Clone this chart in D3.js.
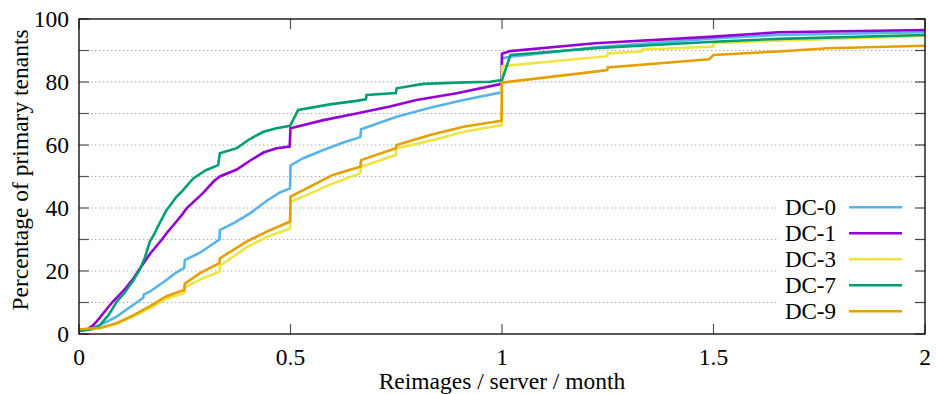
<!DOCTYPE html>
<html><head><meta charset="utf-8">
<script src="https://cdn.jsdelivr.net/npm/d3@7"></script>
<style>
html,body{margin:0;padding:0;background:#fff;}
</style></head>
<body><svg id="chart" width="936" height="394"></svg>
<script>
const seriesNames = ["DC-0","DC-1","DC-3","DC-7","DC-9"];
const seriesColors = ["#56b4e9","#9400d3","#f0e442","#009e73","#e69f00"];
const xTicks = [0,0.5,1,1.5,2];
const xTickLabels = ["0","0.5","1","1.5","2"];
const yTicks = [0,20,40,60,80,100];
const yMinorTicks = [10,20,30,40,50,60,70,80,90];

const dc0 = [[0,1.0],[0.03,1.8],[0.06,3.5],[0.089,5.5],[0.12,8.5],[0.152,11.5],[0.153,12.5],[0.168,13.5],[0.2,16.5],[0.23,19.5],[0.249,21],[0.25,23.5],[0.286,25.8],[0.31,28],[0.332,30],[0.333,33],[0.37,35.5],[0.404,38.3],[0.444,42.3],[0.476,45],[0.499,46.2],[0.5,53.5],[0.53,55.8],[0.578,58.4],[0.625,60.8],[0.665,62.5],[0.667,65],[0.751,69],[0.83,71.8],[0.909,74.3],[0.999,76.7],[1.0,87.5],[1.02,88],[1.22,91],[1.5,93.8],[1.65,94.9],[2,95.8]];
const dc1 = [[0,1],[0.02,1.5],[0.031,2.5],[0.042,4],[0.06,7],[0.078,10],[0.089,11.5],[0.11,14.5],[0.128,17.5],[0.14,20],[0.168,25.5],[0.196,30],[0.207,32],[0.226,35],[0.246,38.3],[0.255,40],[0.293,44.7],[0.318,48.4],[0.333,50],[0.373,52.2],[0.404,55],[0.436,57.6],[0.467,59],[0.498,59.5],[0.5,65.3],[0.578,67.9],[0.656,70],[0.735,72.2],[0.798,74.3],[0.893,76.4],[0.999,79.4],[1.0,89],[1.019,89.8],[1.22,92.3],[1.5,94.4],[1.653,95.8],[2,96.5]];
const dc3 = [[0,1.3],[0.05,1.8],[0.09,3.3],[0.128,5.5],[0.17,8.3],[0.207,11.2],[0.249,13],[0.25,14.8],[0.29,17.5],[0.332,19.8],[0.333,21.6],[0.396,27.5],[0.444,30.8],[0.499,33.5],[0.5,42],[0.53,43.6],[0.6,47.8],[0.665,51],[0.667,53.1],[0.749,56.8],[0.751,59],[0.838,61.6],[0.909,64.2],[0.999,66.3],[1.0,85],[1.14,86.8],[1.249,88.2],[1.25,89.1],[1.33,89.7],[1.331,90.3],[1.499,91.2],[1.5,92.3],[1.653,93.1],[2,94.6]];
const dc7 = [[0,1],[0.03,1.5],[0.043,2.3],[0.05,2.9],[0.07,6],[0.088,10],[0.11,13.5],[0.128,17],[0.142,20],[0.155,24],[0.168,29.5],[0.175,31],[0.19,35],[0.207,39.4],[0.211,40],[0.23,43.5],[0.245,45.5],[0.27,49.4],[0.3,52],[0.329,53.6],[0.333,57.4],[0.373,59],[0.404,61.9],[0.436,64.2],[0.467,65.3],[0.499,66.1],[0.518,71.1],[0.593,72.9],[0.656,74],[0.678,74.5],[0.68,75.9],[0.749,76.5],[0.751,78],[0.814,79.4],[0.893,79.8],[0.972,80.1],[1.0,80.6],[1.02,88.6],[1.22,90.7],[1.5,92.8],[1.653,93.7],[2,94.9]];
const dc9 = [[0,1.5],[0.05,1.9],[0.09,3.5],[0.128,5.9],[0.17,9],[0.207,12],[0.249,14],[0.25,16],[0.286,19.3],[0.332,22.5],[0.333,24],[0.396,29.3],[0.444,32.5],[0.499,35.7],[0.5,43.6],[0.53,45.7],[0.6,50.5],[0.665,53.1],[0.667,55.2],[0.749,59],[0.751,60],[0.83,63.2],[0.909,65.8],[0.999,67.7],[1.0,79.8],[1.22,83.3],[1.249,83.8],[1.25,84.6],[1.49,87.2],[1.5,88.6],[1.653,89.7],[1.77,90.7],[2,91.5]];
const seriesData = [dc0, dc1, dc3, dc7, dc9];

const FONT = "'Liberation Serif'";
const svg = d3.select("#chart");
const L = 79, R = 925, T = 19, B = 334;
const x = d3.scaleLinear().domain([0,2]).range([L,R]);
const y = d3.scaleLinear().domain([0,100]).range([B,T]);

// grid
svg.append("g").selectAll("line").data(yMinorTicks).join("line")
  .attr("x1", L).attr("x2", R).attr("y1", d=>y(d)).attr("y2", d=>y(d))
  .attr("stroke", "#a8a8a8").attr("stroke-width", 1).attr("stroke-dasharray", "1.3,2.7");

// ticks
const tickG = svg.append("g").attr("stroke", "#555").attr("stroke-width", 1.2);
[0].concat(yMinorTicks).concat([100]).forEach(v=>{
  tickG.append("line").attr("x1", L).attr("x2", L+10).attr("y1", y(v)).attr("y2", y(v));
});
xTicks.forEach(v=>{
  tickG.append("line").attr("x1", x(v)).attr("x2", x(v)).attr("y1", B).attr("y2", B-10);
  tickG.append("line").attr("x1", x(v)).attr("x2", x(v)).attr("y1", T).attr("y2", T+10);
});

// legend background
svg.append("rect").attr("x", 779).attr("y", 195).attr("width", R-779-1).attr("height", 128).attr("fill", "#fff");

// right ticks
const tickR = svg.append("g").attr("stroke", "#444").attr("stroke-width", 1.2);
[0].concat(yMinorTicks).concat([100]).forEach(v=>{
  tickR.append("line").attr("x1", R-10).attr("x2", R).attr("y1", y(v)).attr("y2", y(v));
});

// lines
const line = d3.line().x(d=>x(d[0])).y(d=>y(d[1]));
seriesData.forEach((data,i)=>{
  svg.append("path").datum(data).attr("d", line)
    .attr("fill","none").attr("stroke", seriesColors[i]).attr("stroke-width", 2.6)
    .attr("stroke-linejoin","miter").attr("stroke-linecap","butt");
});

// border
svg.append("rect").attr("x", L).attr("y", T).attr("width", R-L).attr("height", B-T)
  .attr("fill","none").attr("stroke","#000").attr("stroke-width",1.3);

// tick labels
svg.append("g").selectAll("text").data(yTicks).join("text")
  .style("font-family", FONT)
  .attr("x", 69).attr("y", d=>y(d)).attr("dy","0.35em").attr("text-anchor","end")
  .attr("font-size", 23.5).text(d=>d);
svg.append("g").selectAll("text").data(xTicks).join("text")
  .style("font-family", FONT)
  .attr("x", d=>x(d)).attr("y", 365).attr("text-anchor","middle")
  .attr("font-size", 23.5).text((d,i)=>xTickLabels[i]);

// axis titles
svg.append("text").style("font-family", FONT).attr("x", 502).attr("y", 388.5).attr("text-anchor","middle")
  .attr("font-size", 23.5).text("Reimages / server / month");
svg.append("text").style("font-family", FONT).attr("transform","translate(28,170) rotate(-90)").attr("text-anchor","middle")
  .attr("font-size", 23.5).text("Percentage of primary tenants");

// legend
seriesNames.forEach((name,i)=>{
  const ly = 207.3 + i*26;
  svg.append("text").style("font-family", FONT).attr("x", 836).attr("y", ly).attr("dy","0.33em").attr("text-anchor","end")
    .attr("font-size", 23).text(name);
  svg.append("line").attr("x1", 849).attr("x2", 902).attr("y1", ly).attr("y2", ly)
    .attr("stroke", seriesColors[i]).attr("stroke-width", 2.6);
});
</script></body></html>
